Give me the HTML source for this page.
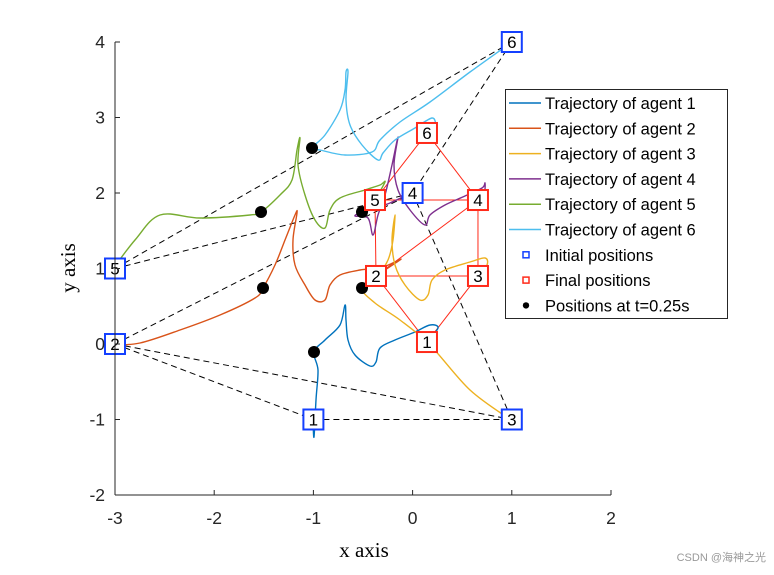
<!DOCTYPE html>
<html><head><meta charset="utf-8"><style>
body{margin:0;background:#fff}
svg text{font-family:"Liberation Sans",Arial,sans-serif}
</style></head><body>
<svg id="chart" width="774" height="570" xmlns="http://www.w3.org/2000/svg">
<rect width="774" height="570" fill="#fff"/>
<g id="lines"></g><g id="marks"></g><g id="axes"></g>
<text x="364" y="557" text-anchor="middle" font-size="21" style="font-family:'Liberation Serif',serif">x axis</text>
<text transform="translate(75,268) rotate(-90)" text-anchor="middle" font-size="21" style="font-family:'Liberation Serif',serif">y axis</text>
<g id="legend"></g>
<text x="766" y="561" text-anchor="end" font-size="11" fill="#999" style="font-family:'Liberation Sans','Noto Sans CJK SC',sans-serif">CSDN @海神之光</text>
</svg>
<script>
const xTicks=[-3,-2,-1,0,1,2];
const yTicks=[-2,-1,0,1,2,3,4];
const colors=["#0072BD","#D95319","#EDB120","#7E2F8E","#77AC30","#4DBEEE"];
const traj1X=[-1.004,-0.994,-0.974,-0.954,-0.994,-0.883,-0.732,-0.681,-0.671,-0.651,-0.581,-0.429,-0.369,-0.329,-0.177,0.024,0.175,0.256,0.145];
const traj1Y=[-1.007,-1.232,-0.742,-0.344,-0.106,0.053,0.252,0.517,0.318,0.053,-0.146,-0.291,-0.238,-0.053,0.053,0.159,0.252,0.212,0.026];
const traj2X=[-3.03,-2.748,-2.345,-1.942,-1.589,-1.508,-1.387,-1.286,-1.185,-1.165,-1.206,-1.185,-1.085,-0.984,-0.883,-0.833,-0.732,-0.530,-0.329,-0.177,-0.127,-0.369];
const traj2Y=[-0.013,0.013,0.185,0.384,0.609,0.742,1.046,1.377,1.709,1.735,1.377,1.046,0.781,0.583,0.583,0.781,0.914,0.980,1.007,1.086,1.113,0.901];
const traj3X=[0.992,0.579,0.175,-0.127,-0.379,-0.510,-0.349,-0.248,-0.198,-0.177,-0.208,-0.177,-0.077,0.075,0.155,0.196,0.327,0.579,0.730,0.750,0.659];
const traj3Y=[-1.007,-0.609,-0.013,0.318,0.543,0.742,0.914,1.113,1.377,1.709,1.377,1.046,0.781,0.583,0.649,0.848,0.980,1.086,1.139,1.046,0.901];
const traj4X=[-0.016,-0.228,-0.429,-0.510,-0.581,-0.450,-0.399,-0.349,-0.278,-0.208,-0.147,-0.187,-0.147,-0.026,0.125,0.175,0.327,0.528,0.700,0.730,0.720,0.659];
const traj4Y=[2.0,1.868,1.775,1.748,1.695,1.669,1.444,1.709,1.974,2.371,2.742,2.371,2.040,1.775,1.576,1.709,1.841,1.960,2.066,2.132,1.974,1.907];
const traj5X=[-3.03,-2.798,-2.546,-2.143,-1.639,-1.528,-1.337,-1.216,-1.165,-1.135,-1.155,-1.085,-0.984,-0.883,-0.833,-0.732,-0.480,-0.329,-0.278,-0.379];
const traj5Y=[0.980,1.377,1.709,1.669,1.709,1.748,1.974,2.172,2.570,2.728,2.371,1.974,1.642,1.536,1.775,1.934,2.040,2.106,2.146,1.907];
const traj6X=[1.002,0.579,0.175,-0.127,-0.329,-0.409,-0.681,-0.933,-1.014,-0.883,-0.732,-0.681,-0.671,-0.651,-0.671,-0.631,-0.510,-0.349,-0.298,-0.177,0.024,0.196,0.226,0.145];
const traj6Y=[4.0,3.603,3.205,2.940,2.702,2.543,2.503,2.570,2.596,2.768,3.099,3.364,3.603,3.603,3.232,2.901,2.636,2.437,2.530,2.702,2.861,2.993,2.887,2.795];
const initX=[-1,-3,1,0,-3,1];
const initY=[-1,0,-1,2,1,4];
const finalX=[0.145,-0.369,0.659,0.659,-0.379,0.145];
const finalY=[0.026,0.901,0.901,1.907,1.907,2.795];
const dotX=[-0.994,-1.508,-0.510,-0.510,-1.528,-1.014];
const dotY=[-0.106,0.742,0.742,1.748,1.748,2.596];
const initEdges=[[5,4],[5,3],[4,3],[4,1],[1,3],[1,0],[1,2],[0,2],[3,2]];
const finalEdges=[[5,4],[5,3],[4,3],[4,1],[3,2],[3,1],[1,2],[1,0],[2,0]];
const legendLabels=["Trajectory of agent 1","Trajectory of agent 2","Trajectory of agent 3","Trajectory of agent 4","Trajectory of agent 5","Trajectory of agent 6","Initial positions","Final positions","Positions at t=0.25s"];

const X=v=>115+(v+3)*99.2, Y=v=>42+(4-v)*75.5;
const NS="http://www.w3.org/2000/svg";
function mk(tag,parent,attrs){const e=document.createElementNS(NS,tag);for(const k in attrs)e.setAttribute(k,attrs[k]);document.getElementById(parent).appendChild(e);return e;}
function smooth(p){let d='M'+p[0][0].toFixed(1)+','+p[0][1].toFixed(1);
for(let i=0;i<p.length-1;i++){const p0=p[Math.max(0,i-1)],p1=p[i],p2=p[i+1],p3=p[Math.min(p.length-1,i+2)];
const c1=[p1[0]+(p2[0]-p0[0])/6,p1[1]+(p2[1]-p0[1])/6],c2=[p2[0]-(p3[0]-p1[0])/6,p2[1]-(p3[1]-p1[1])/6];
d+='C'+c1.map(v=>v.toFixed(1)).join(',')+' '+c2.map(v=>v.toFixed(1)).join(',')+' '+p2.map(v=>v.toFixed(1)).join(',');}
return d;}
const trajX=[traj1X,traj2X,traj3X,traj4X,traj5X,traj6X], trajY=[traj1Y,traj2Y,traj3Y,traj4Y,traj5Y,traj6Y];
initEdges.forEach(([a,b])=>{const e=mk('line','lines',{x1:X(initX[a]),y1:Y(initY[a]),x2:X(initX[b]),y2:Y(initY[b]),stroke:'#000','stroke-width':1,'stroke-dasharray':'6,4'});

});
finalEdges.forEach(([a,b])=>{const e=mk('line','lines',{x1:X(finalX[a]),y1:Y(finalY[a]),x2:X(finalX[b]),y2:Y(finalY[b]),stroke:'#ff2a1a','stroke-width':1});

});
trajX.forEach((xs,i)=>{const pts=xs.map((x,j)=>[X(x),Y(trajY[i][j])]);
const e=mk('path','lines',{d:smooth(pts),fill:'none',stroke:colors[i],'stroke-width':1.4,'stroke-linejoin':'round'});

});
dotX.forEach((x,i)=>{const e=mk('circle','marks',{cx:X(x),cy:Y(dotY[i]),r:6,fill:'#000'});

});
function box(x,y,col,i,kind){const r=mk('rect','marks',{x:X(x)-10,y:Y(y)-10,width:20,height:20,fill:'#fff',stroke:col,'stroke-width':2});


const t=mk('text','marks',{x:X(x),y:Y(y)+6,'text-anchor':'middle','font-size':17});t.textContent=String(i+1);

}
initX.forEach((x,i)=>box(x,initY[i],'#1440ff',i,'initial'));
finalX.forEach((x,i)=>box(x,finalY[i],'#ff2a1a',i,'final'));
let a=mk('line','axes',{x1:115,y1:42,x2:115,y2:495,stroke:'#262626','stroke-width':1});

a=mk('line','axes',{x1:115,y1:495,x2:611,y2:495,stroke:'#262626','stroke-width':1});

xTicks.forEach(v=>{mk('line','axes',{x1:X(v),y1:495,x2:X(v),y2:490,stroke:'#262626'});
const t=mk('text','axes',{x:X(v),y:524,'text-anchor':'middle','font-size':17.5,fill:'#262626'});t.textContent=v;

});
yTicks.forEach(v=>{mk('line','axes',{x1:115,y1:Y(v),x2:120,y2:Y(v),stroke:'#262626'});
const t=mk('text','axes',{x:105,y:Y(v)+6,'text-anchor':'end','font-size':17.5,fill:'#262626'});t.textContent=v;

});
mk('rect','legend',{x:505.5,y:89.5,width:222,height:229,fill:'#fff',stroke:'#262626','stroke-width':1});
legendLabels.forEach((lab,i)=>{const y=103+i*25.3;
if(i<6)mk('line','legend',{x1:509,y1:y,x2:541,y2:y,stroke:colors[i],'stroke-width':1.5});
else if(i<8)mk('rect','legend',{x:523,y:y-3,width:6,height:6,fill:'#fff',stroke:i==6?'#1440ff':'#ff2a1a','stroke-width':1.5});
else mk('circle','legend',{cx:526,cy:y,r:3.2,fill:'#000'});
const t=mk('text','legend',{x:545,y:y+6,'font-size':16.5});t.textContent=lab;

});
</script>
</body></html>
